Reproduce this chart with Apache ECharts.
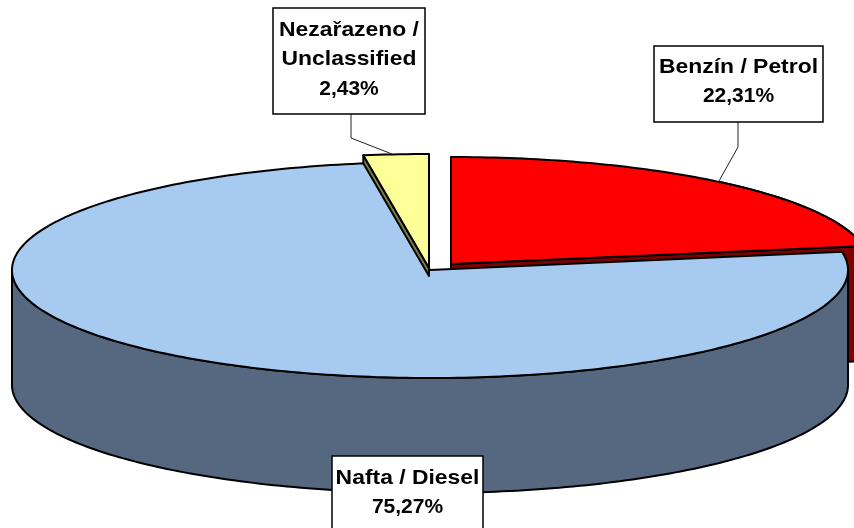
<!DOCTYPE html>
<html>
<head>
<meta charset="utf-8">
<style>html,body{margin:0;padding:0;background:#fff}#c{width:854px;height:528px}</style>
<script src="https://cdn.jsdelivr.net/npm/echarts@6/dist/echarts.min.js"></script>
</head>
<body>
<div id="c"></div>
<script>
var categoryLines = [['Benzín / Petrol'], ['Nafta / Diesel'], ['Nezařazeno /', 'Unclassified']];
var values = [22.31, 75.27, 2.43];
var percentLabels = ['22,31%', '75,27%', '2,43%'];

var topColors = ['#FF0000', '#A6CAF0', '#FFFF99'];
var sideColors = ['#800000', '#55687F', '#808040'];
var slices = [
  {cx: 451, cy: 264, rx: 418, ry: 107, depth: 115, box: [654, 46, 169, 76], textY: 67, leader: [[738, 122], [738, 147], [719, 181]]},
  {cx: 430, cy: 270, rx: 418, ry: 108, depth: 115, box: [332, 456, 151, 90], textY: 478, leader: null},
  {cx: 429, cy: 268, rx: 432, ry: 114, depth: 8, box: [273, 8, 152, 106], textY: 30, leader: [[351, 114], [351, 138], [392, 154]]}
];
var total = values.reduce(function (a, b) { return a + b; }, 0);

function rim(s, deg, dy) {
  var t = deg * Math.PI / 180;
  return [s.cx + s.rx * Math.sin(t), s.cy - s.ry * Math.cos(t) + (dy || 0)];
}
function arc(s, a, b, dy) {
  var pts = [], n = Math.max(2, Math.ceil(Math.abs(b - a)));
  for (var i = 0; i <= n; i++) pts.push(rim(s, a + (b - a) * i / n, dy));
  return pts;
}
function poly(points, fill, lw) {
  return {type: 'polygon', shape: {points: points},
    style: {fill: fill, stroke: '#000', lineWidth: lw || 2, lineJoin: 'round'}};
}
function line(text, x, y, sx) {
  return {type: 'text', x: x, y: y, scaleX: sx, style: {text: text, fill: '#000', align: 'center',
    verticalAlign: 'middle', font: 'bold 21px "Liberation Sans", Arial, sans-serif'}};
}

function renderItem(params, api) {
  var i = params.dataIndex, s = slices[i], els = [];
  var start = 0;
  for (var k = 0; k < i; k++) start += values[k];
  var a0 = start / total * 360, a1 = (start + api.value(0)) / total * 360;
  var apex = [s.cx, s.cy];

  if (i === 0) {
    // outer wall, then the cut face along the wedge's trailing edge
    els.push(poly(arc(s, a0 + 40, a1).concat(arc(s, a1, a0 + 40, s.depth)), sideColors[i]));
    els.push(poly([apex, rim(s, a1), rim(s, a1, s.depth), [s.cx, s.cy + s.depth]], sideColors[i]));
  }
  if (i === 2) {
    // thin cut face along the wedge's leading edge
    els.push(poly([apex, rim(s, a0), rim(s, a0, s.depth), [s.cx, s.cy + s.depth]], sideColors[i]));
  }
  if (i === 1) {
    var from = Math.max(a0, 90), to = Math.min(a1, 270);
    els.push(poly(arc(s, from, to).concat(arc(s, to, from, s.depth)), sideColors[i]));
  }
  // top face
  els.push(poly([apex].concat(arc(s, a0, a1)), topColors[i]));

  // leader
  if (s.leader) {
    els.push({type: 'polyline', shape: {points: s.leader}, style: {stroke: '#222', lineWidth: 1, fill: null}});
  }
  // label box
  var b = s.box;
  els.push({type: 'rect', shape: {x: b[0], y: b[1], width: b[2], height: b[3]},
    style: {fill: '#fff', stroke: '#000', lineWidth: 1.5}});
  var cx = b[0] + b[2] / 2, y = s.textY, ls = categoryLines[i];
  for (var j = 0; j < ls.length; j++) {
    els.push(line(ls[j], cx, y, 1.09));
    y += 29.5;
  }
  els.push(line(percentLabels[i], cx, y, 1));
  return {type: 'group', children: els};
}

var chart = echarts.init(document.getElementById('c'), null, {renderer: 'canvas', width: 854, height: 528});
chart.setOption({
  backgroundColor: '#fff',
  animation: false,
  series: [{
    type: 'custom',
    coordinateSystem: 'none',
    silent: true,
    renderItem: renderItem,
    data: values.map(function (v, i) { return {name: categoryLines[i].join(' '), value: [v]}; })
  }]
});
</script>
</body>
</html>
